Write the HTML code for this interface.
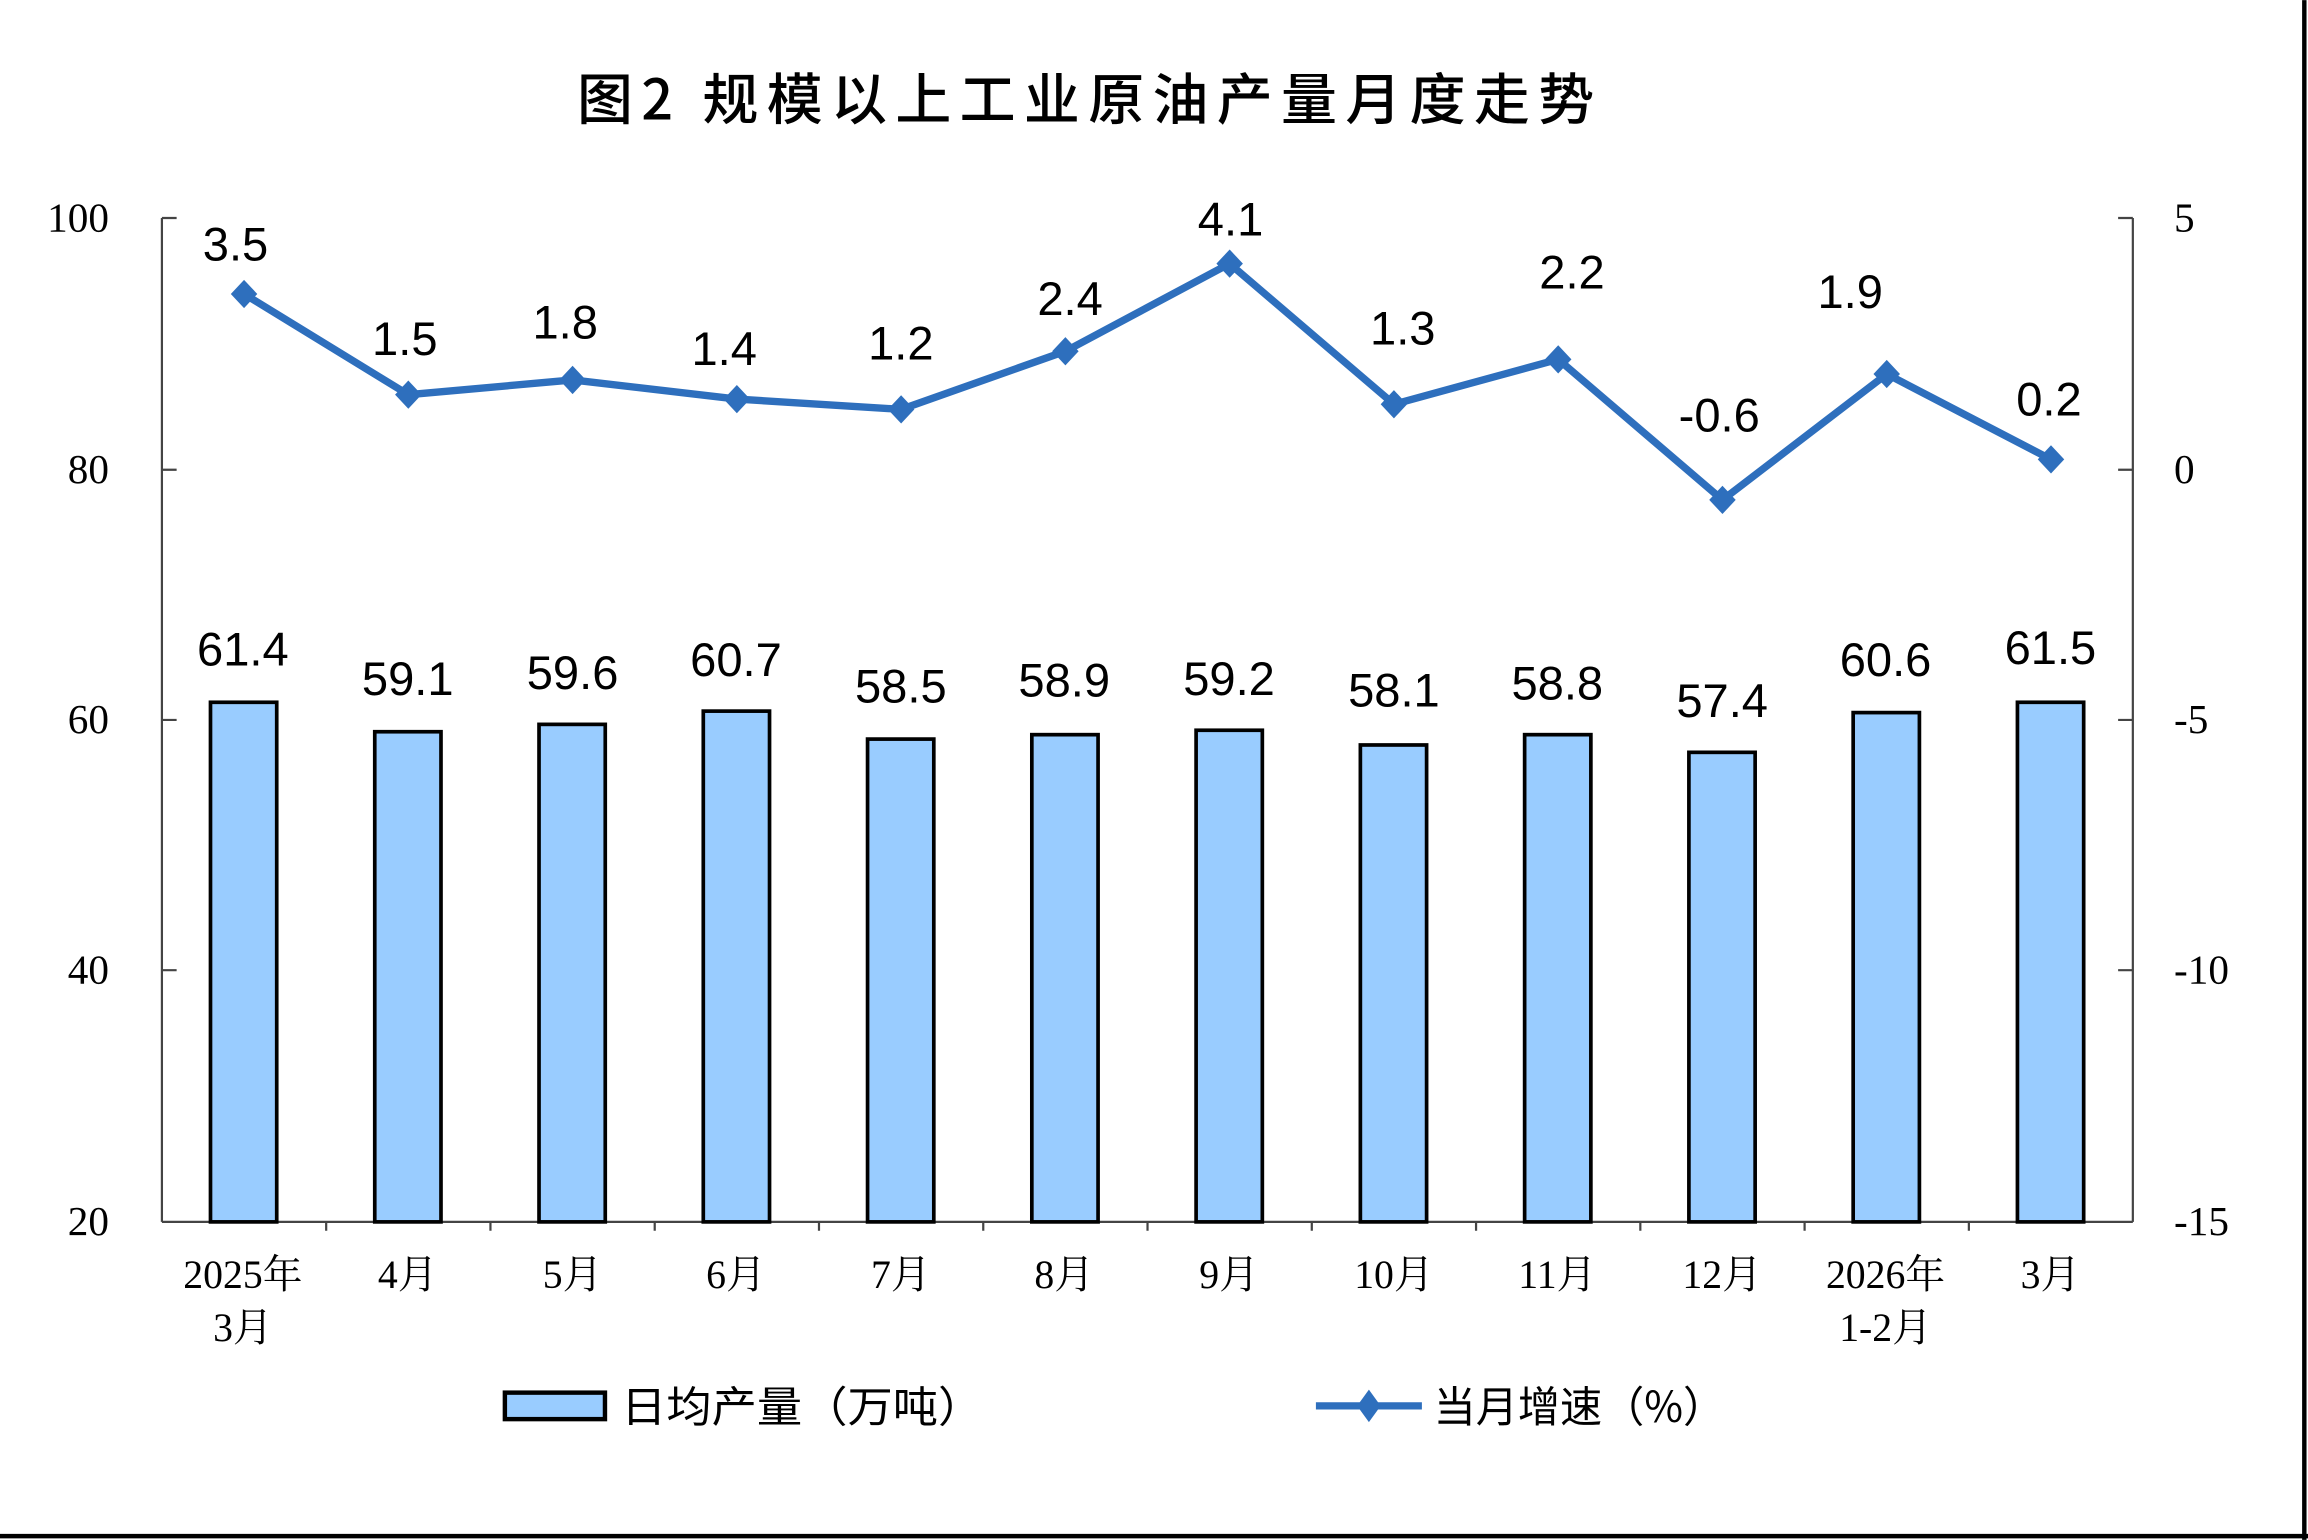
<!DOCTYPE html>
<html><head><meta charset="utf-8"><style>html,body{margin:0;padding:0;background:#fff}svg{display:block}</style></head>
<body>
<svg width="2308" height="1540" viewBox="0 0 1568 1046" xmlns="http://www.w3.org/2000/svg">
<rect x="0" y="0" width="1568" height="1046" fill="#fff"/>
<line x1="1565.5" y1="0" x2="1565.5" y2="1046" stroke="#000" stroke-width="3"/>
<line x1="0" y1="1043.5" x2="1568" y2="1043.5" stroke="#000" stroke-width="3"/>
<text x="392" y="81" textLength="691" lengthAdjust="spacing" font-family="'Noto Sans CJK SC','WenQuanYi Zen Hei',sans-serif" font-size="38" font-weight="500" fill="#000">图2 规模以上工业原油产量月度走势</text>
<g stroke="#444" stroke-width="1.5" fill="none">
<line x1="110" y1="148" x2="110" y2="830"/>
<line x1="1449" y1="148" x2="1449" y2="830"/>
<line x1="110" y1="830" x2="1449" y2="830"/>
<path d="M110 148h10M110 319h10M110 489h10M110 659h10M1449 148h-10M1449 319h-10M1449 489h-10M1449 659h-10"/>
<path d="M221.6 830v6M333.2 830v6M444.8 830v6M556.4 830v6M668 830v6M779.6 830v6M891.2 830v6M1002.8 830v6M1114.4 830v6M1226 830v6M1337.6 830v6"/>
</g>
<g font-family="'Liberation Serif',serif" font-size="28" fill="#000">
<g text-anchor="end"><text x="74" y="157">100</text><text x="74" y="328">80</text><text x="74" y="498">60</text><text x="74" y="668">40</text><text x="74" y="839">20</text></g>
<g text-anchor="start"><text x="1477" y="157">5</text><text x="1477" y="328">0</text><text x="1477" y="498">-5</text><text x="1477" y="668">-10</text><text x="1477" y="839">-15</text></g>
</g>
<g fill="#99ccff" stroke="#000" stroke-width="2.5">
<rect x="143" y="477" width="45" height="353"/>
<rect x="254.6" y="497" width="45" height="333"/>
<rect x="366.2" y="492" width="45" height="338"/>
<rect x="477.8" y="483" width="45" height="347"/>
<rect x="589.4" y="502" width="45" height="328"/>
<rect x="701" y="499" width="45" height="331"/>
<rect x="812.6" y="496" width="45" height="334"/>
<rect x="924.2" y="506" width="45" height="324"/>
<rect x="1035.8" y="499" width="45" height="331"/>
<rect x="1147.4" y="511" width="45" height="319"/>
<rect x="1259" y="484" width="45" height="346"/>
<rect x="1370.6" y="477" width="45" height="353"/>
</g>
<g font-family="'Liberation Sans',sans-serif" font-size="32" fill="#000" text-anchor="middle">
<text x="165" y="452">61.4</text><text x="277" y="472">59.1</text><text x="389" y="468">59.6</text><text x="500" y="459">60.7</text><text x="612" y="477">58.5</text><text x="723" y="473">58.9</text><text x="835" y="472">59.2</text><text x="947" y="480">58.1</text><text x="1058" y="475">58.8</text><text x="1170" y="487">57.4</text><text x="1281" y="459">60.6</text><text x="1393" y="451">61.5</text>
</g>
<polyline fill="none" stroke="#2e6fbd" stroke-width="5" stroke-linejoin="round" points="165.8,199.6 277.4,268 389,258 500.6,271 612.2,278 723.8,238.5 835.4,179 947,274.5 1058.6,244 1170.2,339.5 1281.8,254 1393.4,312"/>
<g fill="#2e6fbd">
<path d="M165.8 190l9 9.6-9 9.6-9-9.6z"/><path d="M277.4 258.4l9 9.6-9 9.6-9-9.6z"/><path d="M389 248.4l9 9.6-9 9.6-9-9.6z"/><path d="M500.6 261.4l9 9.6-9 9.6-9-9.6z"/><path d="M612.2 268.4l9 9.6-9 9.6-9-9.6z"/><path d="M723.8 228.9l9 9.6-9 9.6-9-9.6z"/><path d="M835.4 169.4l9 9.6-9 9.6-9-9.6z"/><path d="M947 264.9l9 9.6-9 9.6-9-9.6z"/><path d="M1058.6 234.4l9 9.6-9 9.6-9-9.6z"/><path d="M1170.2 329.9l9 9.6-9 9.6-9-9.6z"/><path d="M1281.8 244.4l9 9.6-9 9.6-9-9.6z"/><path d="M1393.4 302.4l9 9.6-9 9.6-9-9.6z"/>
</g>
<g font-family="'Liberation Sans',sans-serif" font-size="32" fill="#000" text-anchor="middle">
<text x="160" y="177">3.5</text><text x="275" y="241">1.5</text><text x="384" y="230">1.8</text><text x="492" y="248">1.4</text><text x="612" y="244">1.2</text><text x="727" y="214">2.4</text><text x="836" y="160">4.1</text><text x="953" y="234">1.3</text><text x="1068" y="196">2.2</text><text x="1168" y="293">-0.6</text><text x="1257" y="209">1.9</text><text x="1392" y="282">0.2</text>
</g>
<g font-family="'Liberation Serif','Noto Serif CJK SC',serif" font-size="27" fill="#000" text-anchor="middle">
<text x="165" y="875">2025年</text><text x="165" y="911">3月</text>
<text x="277" y="875">4月</text><text x="389" y="875">5月</text><text x="500" y="875">6月</text><text x="612" y="875">7月</text><text x="723" y="875">8月</text><text x="835" y="875">9月</text><text x="947" y="875">10月</text><text x="1058" y="875">11月</text><text x="1170" y="875">12月</text>
<text x="1281" y="875">2026年</text><text x="1281" y="911">1-2月</text><text x="1393" y="875">3月</text>
</g>
<rect x="343" y="946" width="68" height="18" fill="#99ccff" stroke="#000" stroke-width="3"/>
<text x="422" y="966" textLength="246" lengthAdjust="spacingAndGlyphs" font-family="'Noto Sans CJK SC','WenQuanYi Zen Hei',sans-serif" font-size="29" fill="#000">日均产量（万吨）</text>
<line x1="894" y1="955" x2="966" y2="955" stroke="#2e6fbd" stroke-width="5"/>
<path d="M930 944l8 11-8 11-8-11z" fill="#2e6fbd"/>
<text x="974" y="966" textLength="198" lengthAdjust="spacingAndGlyphs" font-family="'Noto Sans CJK SC','WenQuanYi Zen Hei',sans-serif" font-size="29" fill="#000">当月增速（%）</text>
</svg>
</body></html>
